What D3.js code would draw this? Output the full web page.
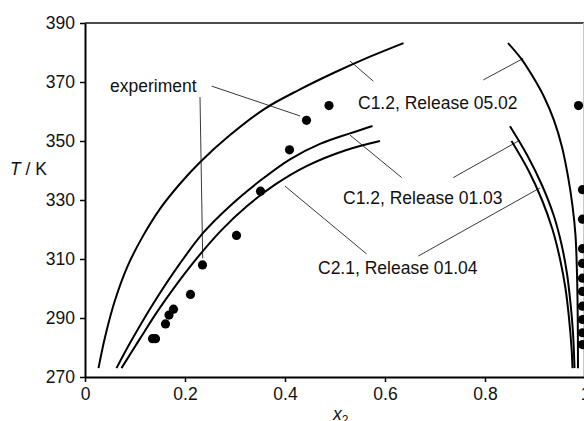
<!DOCTYPE html>
<html>
<head>
<meta charset="utf-8">
<script src="https://cdn.jsdelivr.net/npm/d3@7"></script>
<style>
  html, body { margin:0; padding:0; background:#fff; }
  svg { display:block; font-family:"Liberation Sans", Arial, sans-serif; }
  .axis path, .axis line { stroke:#000; }
  .axis text { font-size:17.5px; fill:#111; font-family:"Liberation Sans", Arial, sans-serif; }
</style>
</head>
<body>
<svg id="chart" width="584" height="421"></svg>
<script>
// ── data (x2 mole fraction, T in K) ─────────────────────────
const xTicks = [0, 0.2, 0.4, 0.6, 0.8, 1];
const yTicks = [270, 290, 310, 330, 350, 370, 390];

// experimental points
const expLeft = [
  [0.135,283],[0.141,283],[0.161,288],[0.168,291],[0.177,293],[0.211,298],
  [0.235,308],[0.303,318],[0.351,333],[0.409,347],[0.443,357],[0.488,362]
];
const expRight = [
  [0.987,362],[0.995,333.5],[0.995,323.5],[0.995,313.5],[0.995,308.5],[0.995,303.5],
  [0.995,299],[0.995,294],[0.995,289.5],[0.995,285],[0.995,281]
];

// calculated curves, left branches (x rising) and right branches (T falling)
const c0502L = [[0.027,273],[0.04,283.5],[0.06,296],[0.085,307.5],[0.115,317.5],[0.15,327],[0.19,335.5],
  [0.23,342.8],[0.29,352],[0.36,361],[0.43,367.5],[0.5,373.3],[0.57,378.6],[0.637,383.2]];
const c0103L = [[0.063,273],[0.09,281.5],[0.137,295],[0.19,308.5],[0.237,319],[0.29,328],[0.35,336.5],
  [0.41,343.8],[0.47,349],[0.53,352.6],[0.575,355.1]];
const c0104L = [[0.073,273],[0.11,283],[0.15,293.5],[0.213,308],[0.273,319.8],[0.323,327.8],[0.38,335.2],
  [0.443,341.5],[0.52,346.8],[0.59,350]];
const c0502R = [[0.846,383.2],[0.872,378],[0.895,372],[0.918,365],[0.938,357],[0.954,348],[0.966,338],
  [0.975,328],[0.981,318],[0.984,305],[0.9855,290],[0.986,273]];
const c0103R = [[0.85,355],[0.885,345],[0.914,335],[0.937,325],[0.953,315],[0.964,305],[0.971,295],
  [0.976,285],[0.979,273]];
const c0104R = [[0.853,350],[0.887,340],[0.914,330],[0.935,320],[0.95,310],[0.961,300],[0.968,290],
  [0.973,280],[0.975,273]];
const curves = [c0502L, c0103L, c0104L, c0502R, c0103R, c0104R];

// annotation texts (anchor in data units) and leader lines
const labels = [
  {text:'experiment',          x:0.05,  T:366.7},
  {text:'C1.2, Release 05.02', x:0.546, T:361.0},
  {text:'C1.2, Release 01.03', x:0.516, T:328.7},
  {text:'C2.1, Release 01.04', x:0.466, T:304.8},
];
const leaders = [
  [[0.2534,368.6],[0.43,358.5]],
  [[0.23,364.9],[0.2354,310.2]],
  [[0.53,377.1],[0.5766,370.3]],
  [[0.7966,370.7],[0.8766,378.0]],
  [[0.53,352.0],[0.6334,337.6]],
  [[0.7366,337.6],[0.87,350.3]],
  [[0.40,334.7],[0.5634,311.7]],
  [[0.91,334.1],[0.6666,311.0]],
];

// ── layout ──────────────────────────────────────────────────
const svg = d3.select('#chart');
const x = d3.scaleLinear().domain([0,1]).range([85,585]);
const y = d3.scaleLinear().domain([270,390]).range([377,23]);

const line = d3.line().x(d=>x(d[0])).y(d=>y(d[1])).curve(d3.curveCatmullRom.alpha(0.5));

// frame: top and right
svg.append('line').attr('x1',85).attr('x2',585).attr('y1',y(390)).attr('y2',y(390))
  .attr('stroke','#111').attr('stroke-width',1.6);
svg.append('line').attr('x1',583.5).attr('x2',583.5).attr('y1',y(390)).attr('y2',y(270))
  .attr('stroke','#c8c8c8').attr('stroke-width',1);

// leader lines
svg.append('g').selectAll('line').data(leaders).join('line')
  .attr('x1',d=>x(d[0][0])).attr('y1',d=>y(d[0][1]))
  .attr('x2',d=>x(d[1][0])).attr('y2',d=>y(d[1][1]))
  .attr('stroke','#222').attr('stroke-width',0.9);

// curves
svg.append('g').attr('fill','none').attr('stroke','#000').attr('stroke-width',2)
  .selectAll('path').data(curves).join('path').attr('d', line);

// experiment dots
svg.append('g').selectAll('circle').data(expLeft.concat(expRight)).join('circle')
  .attr('cx',d=>x(d[0])).attr('cy',d=>y(d[1])).attr('r',4.6).attr('fill','#000');

// axes
const gx = svg.append('g').attr('class','axis').attr('transform',`translate(0,${y(270)})`)
  .call(d3.axisBottom(x).tickValues(xTicks).tickFormat(d3.format('')).tickSize(5).tickSizeOuter(0).tickPadding(6));
gx.select('.domain').attr('stroke-width',2);
gx.selectAll('.tick line').attr('stroke-width',1.5);

const gy = svg.append('g').attr('class','axis').attr('transform',`translate(${x(0)},0)`)
  .call(d3.axisLeft(y).tickValues(yTicks).tickSize(5).tickSizeOuter(0).tickPadding(5));
gy.select('.domain').attr('stroke-width',2);
gy.selectAll('.tick line').attr('stroke-width',1.5);

// annotation text
svg.append('g').selectAll('text').data(labels).join('text')
  .attr('x',d=>x(d.x)).attr('y',d=>y(d.T))
  .attr('font-size',17.5).attr('fill','#111').text(d=>d.text);

// axis titles
const yt = svg.append('text').attr('x',10).attr('y',175).attr('font-size',17.5).attr('fill','#111');
yt.append('tspan').attr('font-style','italic').text('T');
yt.append('tspan').text(' / K');

const xt = svg.append('text').attr('x',333).attr('y',420).attr('font-size',17.5).attr('fill','#111');
xt.append('tspan').attr('font-style','italic').text('x');
xt.append('tspan').attr('font-size',12).attr('dy',4).text('2');
</script>
</body>
</html>
